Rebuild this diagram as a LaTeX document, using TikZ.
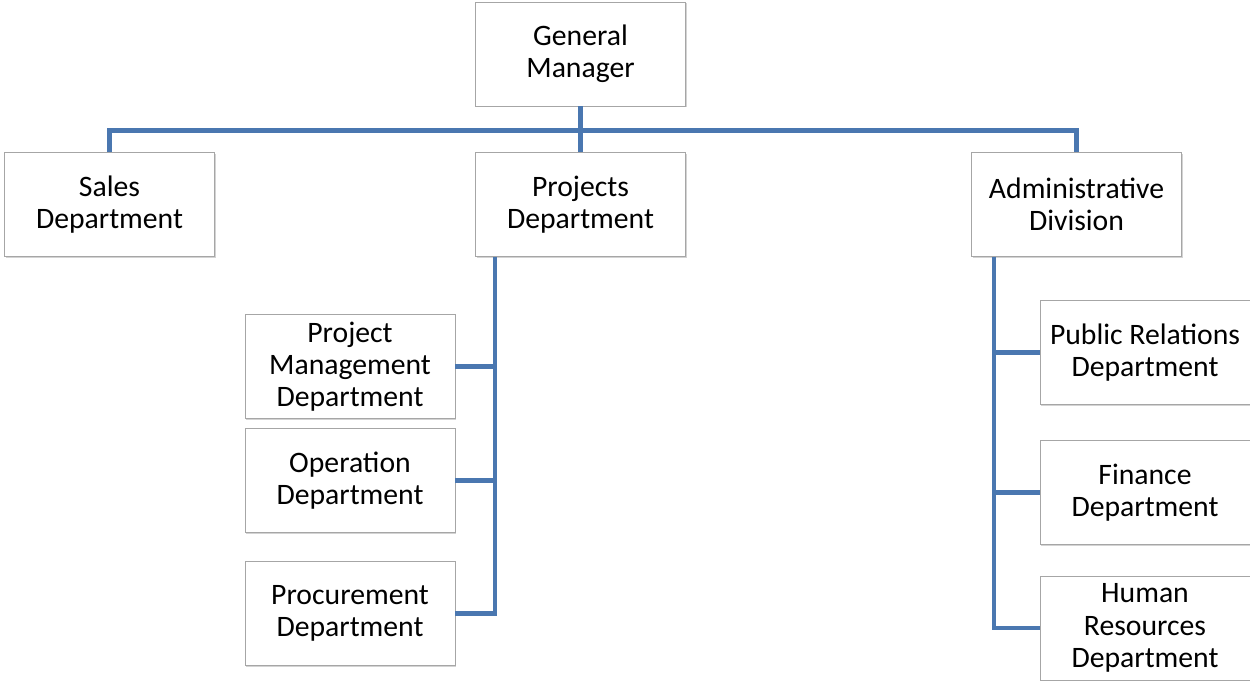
\documentclass[tikz,border=0pt]{standalone}
\usepackage{fontspec}
\setmainfont{Carlito}
\usetikzlibrary{positioning,shadows}

\begin{document}
\begin{tikzpicture}[x=0.02cm,y=-0.02cm,
  unit/.style={draw=gray!70,fill=white,minimum width=4.2cm,minimum height=2.08cm,
    align=center,font=\fontsize{16.9}{18.3}\selectfont,
    drop shadow={shadow xshift=0.6pt,shadow yshift=-0.8pt,opacity=0.35}},
  link/.style={draw=linkblue,line width=2.8pt}]
\definecolor{linkblue}{HTML}{4A77B0}
\useasboundingbox (0,0) rectangle (1250,680);
% top level
\node[unit] (gm) at (580.5,54) {General\\Manager};
\node[unit] (sales) at (109.5,204.5) {Sales\\Department};
\node[unit] (projects) at (580.5,204.5) {Projects\\Department};
\node[unit] (admin) at (1076.5,204.5) {Administrative\\Division};
% projects branch
\node[unit] (pmd) at (350,366.5) {Project\\Management\\Department};
\node[unit] (oper) at (350,480.5) {Operation\\Department};
\node[unit] (procure) at (350,613.5) {Procurement\\Department};
% admin branch
\node[unit] (pr) at (1145,352.5) {Public Relations\\Department};
\node[unit] (fin) at (1145,492.5) {Finance\\Department};
\node[unit] (hr) at (1145,628) {Human\\Resources\\Department};
\coordinate (pbus) at (495,613.5);
\coordinate (abus) at (994,628);
\draw [link] (gm) -- (projects);
\draw [link] (sales.north) -- ++(0,-22) -| (admin.north);
\draw [link] (projects.south -| pbus) -- (pbus) -- (procure.east);
\draw [link] (pmd.east) -- (pmd.east -| pbus);
\draw [link] (oper.east) -- (oper.east -| pbus);
\draw [link] (admin.south -| abus) -- (abus) -- (hr.west);
\draw [link] (pr.west) -- (pr.west -| abus);
\draw [link] (fin.west) -- (fin.west -| abus);
\end{tikzpicture}
\end{document}
